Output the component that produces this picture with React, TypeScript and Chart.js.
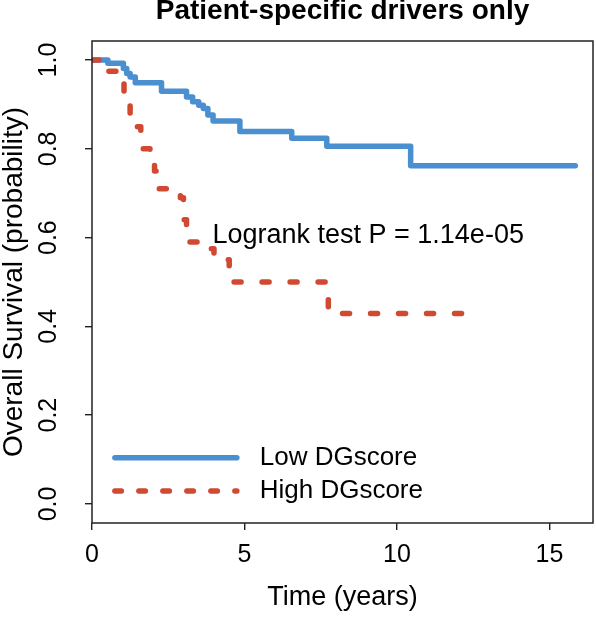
import React, { useEffect, useRef } from "react";
import { Chart, registerables } from "chart.js";

Chart.register(...registerables);

// ---------- data ----------
const titleText = "Patient-specific drivers only";
const xTitle = "Time (years)";
const yTitle = "Overall Survival (probability)";
const seriesNames = ["Low DGscore", "High DGscore"];
const pValueText = "Logrank test P = 1.14e-05";

const xTicks = [0, 5, 10, 15];
const yTicks = [0, 0.2, 0.4, 0.6, 0.8, 1.0];

// Kaplan-Meier steps (time in years, survival probability)
const lowTimes = [0, 0.52, 1.03, 1.14, 1.25, 1.42, 2.28, 3.1, 3.3, 3.5, 3.65, 3.8, 3.97, 4.85, 6.55, 7.7, 10.45, 15.85];
const lowSurv = [1.0, 0.993, 0.981, 0.97, 0.962, 0.949, 0.93, 0.917, 0.906, 0.898, 0.891, 0.876, 0.863, 0.839, 0.824, 0.806, 0.762, 0.762];

const highTimes = [0, 0.45, 0.8, 1.05, 1.15, 1.25, 1.35, 1.6, 1.9, 2.05, 2.2, 2.9, 3.0, 3.1, 3.85, 4.0, 4.5, 4.65, 7.75, 12.25];
const highSurv = [1.0, 0.975, 0.95, 0.925, 0.9, 0.875, 0.85, 0.8, 0.775, 0.75, 0.71, 0.69, 0.64, 0.59, 0.575, 0.55, 0.535, 0.5, 0.429, 0.429];

// ---------- styles ----------
const FONT = "'Liberation Sans', Arial, Helvetica, sans-serif";
const BLUE = "#4a8fcf";
const RED = "#d04a33";
const LINE_W = 5.5;
const X_MIN = 0;
const X_MAX = 16.43;
const Y_MIN = -0.043;
const Y_MAX = 1.043;

const overlayPlugin = {
  id: "kmOverlay",
  afterDatasetsDraw(chart: any) {
    const { ctx, chartArea: a, scales } = chart;
    const xs = scales.x;
    const ys = scales.y;
    ctx.save();
    // plot frame
    ctx.strokeStyle = "#222";
    ctx.lineWidth = 1.5;
    ctx.setLineDash([]);
    ctx.strokeRect(a.left, a.top, a.right - a.left, a.bottom - a.top);

    // log-rank annotation
    ctx.fillStyle = "#000";
    ctx.font = `27px ${FONT}`;
    ctx.textAlign = "left";
    ctx.textBaseline = "middle";
    ctx.fillText(pValueText, xs.getPixelForValue(3.95), ys.getPixelForValue(0.605));

    // legend
    const rows = [
      { name: seriesNames[0], color: BLUE, dash: [] as number[], yv: 0.104 },
      { name: seriesNames[1], color: RED, dash: [6.5, 17.5], yv: 0.029 },
    ];
    const x0 = xs.getPixelForValue(0.75);
    const x1 = xs.getPixelForValue(4.75);
    const xt = xs.getPixelForValue(5.5);
    ctx.font = `26px ${FONT}`;
    for (const r of rows) {
      const py = ys.getPixelForValue(r.yv);
      ctx.beginPath();
      ctx.strokeStyle = r.color;
      ctx.lineWidth = LINE_W;
      ctx.lineCap = "round";
      ctx.setLineDash(r.dash);
      ctx.moveTo(x0, py);
      ctx.lineTo(x1, py);
      ctx.stroke();
      ctx.setLineDash([]);
      ctx.fillStyle = "#000";
      ctx.fillText(r.name, xt, py);
    }
    ctx.restore();
  },
};

export default function App() {
  const ref = useRef<HTMLCanvasElement | null>(null);

  useEffect(() => {
    if (!ref.current) return;
    const chart = new Chart(ref.current, {
      type: "line",
      data: {
        datasets: [
          {
            label: seriesNames[1],
            data: highTimes.map((t, i) => ({ x: t, y: highSurv[i] })),
            stepped: true,
            borderColor: RED,
            backgroundColor: RED,
            borderWidth: LINE_W,
            borderDash: [7, 21],
            borderCapStyle: "round",
            borderJoinStyle: "round",
            pointRadius: 0,
            fill: false,
            order: 0,
          },
          {
            label: seriesNames[0],
            data: lowTimes.map((t, i) => ({ x: t, y: lowSurv[i] })),
            stepped: true,
            borderColor: BLUE,
            backgroundColor: BLUE,
            borderWidth: LINE_W,
            borderCapStyle: "round",
            borderJoinStyle: "round",
            pointRadius: 0,
            fill: false,
            order: 1,
          },
        ],
      },
      options: {
        responsive: false,
        animation: false,
        layout: { padding: { top: 0, right: 3, bottom: 0, left: 0 } },
        plugins: {
          legend: { display: false },
          tooltip: { enabled: false },
          title: {
            display: true,
            text: titleText,
            fullSize: false,
            color: "#000",
            font: { family: FONT, size: 28, weight: "bold", lineHeight: 0.8 },
            padding: { top: 0, bottom: 18.6 },
          },
        },
        scales: {
          x: {
            type: "linear",
            min: X_MIN,
            max: X_MAX,
            afterBuildTicks: (s: any) => {
              s.ticks = xTicks.map((v) => ({ value: v }));
            },
            afterFit: (s: any) => {
              s.height = 94;
            },
            border: { display: false },
            grid: { drawOnChartArea: false, drawTicks: true, tickLength: 7, color: "#222", lineWidth: 1.4 },
            ticks: {
              color: "#000",
              font: { family: FONT, size: 25 },
              padding: 10,
              maxRotation: 0,
              autoSkip: false,
            },
            title: {
              display: true,
              text: xTitle,
              color: "#000",
              font: { family: FONT, size: 27, lineHeight: 1.2 },
              padding: { top: 0, bottom: 3 },
            },
          },
          y: {
            type: "linear",
            min: Y_MIN,
            max: Y_MAX,
            afterBuildTicks: (s: any) => {
              s.ticks = yTicks.map((v) => ({ value: v }));
            },
            afterFit: (s: any) => {
              s.width = 92;
            },
            border: { display: false },
            grid: { drawOnChartArea: false, drawTicks: true, tickLength: 7, color: "#222", lineWidth: 1.4 },
            ticks: {
              color: "#000",
              font: { family: FONT, size: 25 },
              padding: 19,
              minRotation: 90,
              maxRotation: 90,
              crossAlign: "center",
              autoSkip: false,
              callback: (v: any) => Number(v).toFixed(1),
            },
            title: {
              display: true,
              text: yTitle,
              color: "#000",
              font: { family: FONT, size: 28, lineHeight: 1 },
              padding: { top: 0, bottom: 0 },
            },
          },
        },
      },
      plugins: [overlayPlugin],
    } as any);
    return () => chart.destroy();
  }, []);

  return (
    <div style={{ position: "fixed", left: 0, top: 0, width: 596, height: 617, background: "#fff" }}>
      <canvas ref={ref} width={596} height={617} style={{ display: "block" }} />
    </div>
  );
}
